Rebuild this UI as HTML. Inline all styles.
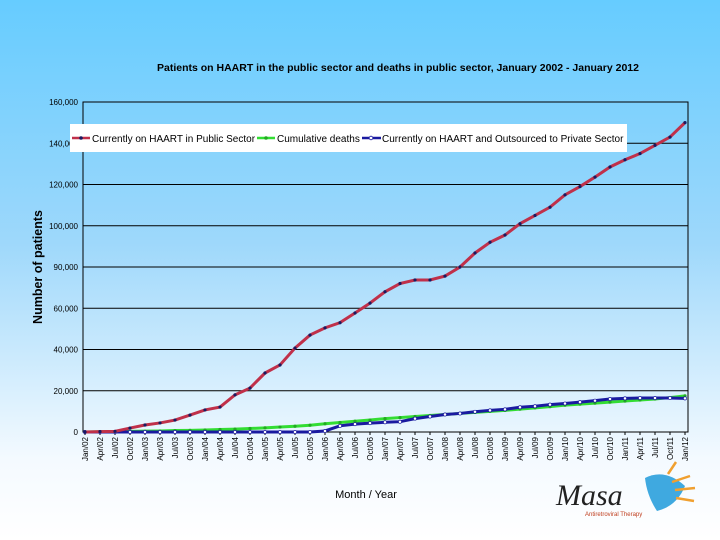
<!DOCTYPE html>
<html><head><meta charset="utf-8"><style>
html,body{margin:0;padding:0;width:720px;height:540px;overflow:hidden}
svg{display:block;font-family:"Liberation Sans",Arial,sans-serif}
</style></head><body>
<svg id="chart" width="720" height="540" viewBox="0 0 720 540">
<defs><linearGradient id="bg" x1="0" y1="0" x2="0" y2="1">
<stop offset="0" stop-color="#66ccff"/><stop offset="0.45" stop-color="#9ed8fb"/><stop offset="0.85" stop-color="#f4faff"/><stop offset="1" stop-color="#ffffff"/></linearGradient></defs>
<rect width="720" height="540" fill="url(#bg)"/>
<text x="398" y="71" text-anchor="middle" font-size="10.5" font-weight="bold" fill="#000">Patients on HAART in the public sector and deaths in public sector, January 2002 - January 2012</text>
<g id="grid"></g>
<g id="yticks"></g>
<g id="xticks"></g>
<g id="series"></g>
<text transform="translate(42,267) rotate(-90)" text-anchor="middle" font-size="12.5" font-weight="bold">Number of patients</text>
<text x="366" y="498" text-anchor="middle" font-size="11">Month / Year</text>
<g>
<rect x="70" y="124" width="557" height="28" fill="#fff"/>
<line x1="72" y1="138" x2="90" y2="138" stroke="#c0304a" stroke-width="2.5"/><circle cx="81" cy="138" r="1.8" fill="#1a1a60"/>
<text x="92" y="142" font-size="10">Currently on HAART in Public Sector</text>
<line x1="257" y1="138" x2="275" y2="138" stroke="#33dd33" stroke-width="2.5"/><circle cx="266" cy="138" r="1.8" fill="#22aa22"/>
<text x="277" y="142" font-size="10">Cumulative deaths</text>
<line x1="362" y1="138" x2="381" y2="138" stroke="#1a1aa0" stroke-width="2.5"/><circle cx="371" cy="138" r="1.8" fill="#fff" stroke="#1a1aa0" stroke-width="0.8"/>
<text x="382" y="142" font-size="10">Currently on HAART and Outsourced to Private Sector</text>
</g>
<g>
<path d="M645 478 q20 -10 40 8 q-8 20 -28 25 q-10 -15 -12 -33z" fill="#3fa9e0"/>
<path d="M672 482 l18 -6 M675 490 l20 -2 M676 498 l18 3 M668 474 l8 -12" stroke="#f0a030" stroke-width="2.5"/>
<text x="556" y="505" font-size="30" font-style="italic" font-family="Liberation Serif,serif" fill="#222">Masa</text>
<text x="585" y="516" font-size="6" fill="#c04020">Antiretroviral Therapy</text>
</g>
</svg>
<script>
const monthLabels=["Jan","Apr","Jul","Oct"];
const publicSector=[0,200,300,1900,3400,4400,5800,8200,10700,12100,18000,21300,28600,32500,40700,47000,50500,53000,57700,62500,68000,72000,73700,73700,75600,80000,86800,92000,95500,101000,105000,109000,115000,119000,123600,128500,132000,135000,139000,143000,150000];
const deaths=[0,100,200,300,400,500,700,800,1000,1200,1400,1700,2000,2400,2800,3300,4000,4600,5200,5800,6500,7000,7500,8000,8500,9000,9500,10000,10500,11100,11700,12300,13000,13500,14000,14500,15000,15500,16000,16700,17500];
const outsourced=[0,0,0,0,0,0,0,0,0,0,0,0,0,0,0,0,500,3000,3800,4300,4700,5000,6500,7500,8500,9000,9800,10500,11000,12000,12500,13300,13800,14500,15200,16000,16300,16500,16500,16500,16300];
const yTicks=[0,20000,40000,60000,80000,100000,120000,140000,160000];
const yTickLabels=["0","20,000","40,000","60,000","90,000","100,000","120,000","140,000","160,000"];
const NS="http://www.w3.org/2000/svg";
const X0=85,X1=685,Y0=432,Y1=102;
const xs=i=>X0+(X1-X0)*i/(publicSector.length-1);
const ys=v=>Y0-(Y0-Y1)*v/160000;
function mk(t,a,p){const e=document.createElementNS(NS,t);for(const k in a)e.setAttribute(k,a[k]);p.appendChild(e);return e;}
const grid=document.getElementById('grid'),yt=document.getElementById('yticks'),xt=document.getElementById('xticks'),sg=document.getElementById('series');
mk('rect',{x:83,y:Y1,width:605,height:Y0-Y1,fill:'none',stroke:'#000','stroke-width':1},grid);
yTicks.forEach((v,i)=>{
 const l=mk('line',{x1:83,x2:688,y1:ys(v),y2:ys(v),stroke:'#000','stroke-width':1},grid);
 
 
 const t=mk('text',{x:78,y:ys(v)+3,'text-anchor':'end','font-size':8},yt);
 t.textContent=yTickLabels[i];
 
 
});
publicSector.forEach((v,i)=>{
 const x=xs(i);
 mk('line',{x1:x,x2:x,y1:Y0,y2:Y0+3,stroke:'#000'},xt);
 const yr=String(2+Math.floor(i/4)).padStart(2,'0');
 const t=mk('text',{x:0,y:0,'text-anchor':'end','font-size':8,transform:`translate(${x+3},${Y0+5}) rotate(-90)`},xt);
 t.textContent=monthLabels[i%4]+'/'+yr;
 
 
});
function draw(data,color,name,mfill){
 const pts=data.map((v,i)=>xs(i)+','+ys(v)).join(' ');
 const p=mk('polyline',{points:pts,fill:'none',stroke:color,'stroke-width':3},sg);
 
 
 data.forEach((v,i)=>{
  const c=mk('circle',{cx:xs(i),cy:ys(v),r:1.6,fill:mfill,stroke:mfill==='#fff'?color:'none','stroke-width':0.7},sg);
  
  
 });
}
draw(deaths,'#33dd33','deaths-line','#22aa22');
draw(outsourced,'#1a1aa0','outsourced-line','#fff');
draw(publicSector,'#c0304a','public-sector-line','#1a1a60');
</script>
</body></html>
